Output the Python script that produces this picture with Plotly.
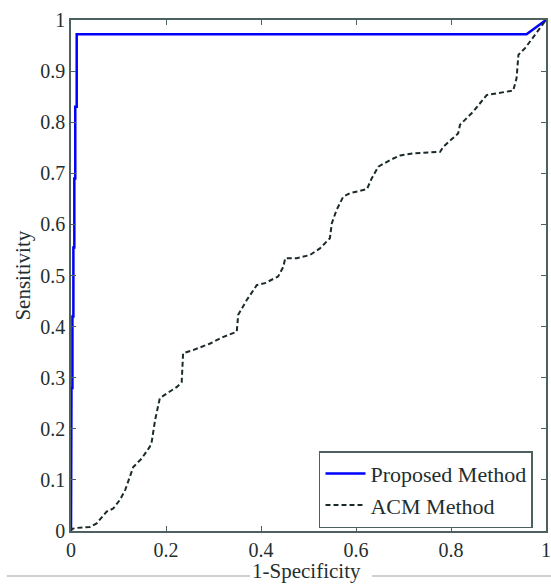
import plotly.graph_objects as go

# Proposed Method ROC (blue, stepwise)
proposed_fpr = [0, 0, 0.001, 0.001, 0.003, 0.003, 0.005, 0.005, 0.007, 0.007,
                0.009, 0.009, 0.012, 0.012, 0.959, 1.0]
proposed_tpr = [0, 0.14, 0.14, 0.28, 0.28, 0.42, 0.42, 0.555, 0.555, 0.69,
                0.69, 0.83, 0.83, 0.972, 0.972, 1.0]

# ACM Method ROC (dashed)
acm_fpr = [0.0, 0.0015, 0.012, 0.04, 0.054, 0.075, 0.089, 0.103, 0.114, 0.124,
           0.131, 0.149, 0.166, 0.170, 0.177, 0.187, 0.201, 0.223, 0.233, 0.236,
           0.257, 0.293, 0.321, 0.349, 0.352, 0.370, 0.391, 0.408, 0.436, 0.447,
           0.451, 0.475, 0.503, 0.524, 0.545, 0.549, 0.559, 0.573, 0.587, 0.623,
           0.633, 0.647, 0.672, 0.693, 0.721, 0.777, 0.784, 0.815, 0.819, 0.847,
           0.875, 0.903, 0.931, 0.938, 0.942, 0.956, 0.973, 1.0]
acm_tpr = [0.0, 0.004, 0.006, 0.008, 0.015, 0.038, 0.044, 0.061, 0.080, 0.106,
           0.125, 0.142, 0.165, 0.175, 0.217, 0.260, 0.268, 0.282, 0.291, 0.348,
           0.354, 0.367, 0.380, 0.390, 0.423, 0.452, 0.481, 0.485, 0.498, 0.517,
           0.534, 0.534, 0.540, 0.553, 0.573, 0.602, 0.628, 0.654, 0.661, 0.669,
           0.690, 0.713, 0.726, 0.735, 0.739, 0.742, 0.752, 0.778, 0.795, 0.821,
           0.853, 0.858, 0.862, 0.886, 0.932, 0.945, 0.967, 1.0]

tick_vals = [0, 0.1, 0.2, 0.3, 0.4, 0.5, 0.6, 0.7, 0.8, 0.9, 1]
tick_text = ["0", "0.1", "0.2", "0.3", "0.4", "0.5", "0.6", "0.7", "0.8", "0.9", "1"]
x_tick_vals = [0, 0.2, 0.4, 0.6, 0.8, 1]
x_tick_text = ["0", "0.2", "0.4", "0.6", "0.8", "1"]

FONT = "Liberation Serif, Times New Roman, serif"
FRAME = "#4d6161"
TXT = "#1f2f2f"

fig = go.Figure()
fig.add_trace(go.Scatter(x=proposed_fpr, y=proposed_tpr, mode="lines",
                         name="Proposed Method",
                         line=dict(color="#0000ff", width=2.5)))
fig.add_trace(go.Scatter(x=acm_fpr, y=acm_tpr, mode="lines",
                         name="ACM Method",
                         line=dict(color="#1a2a2a", width=2, dash="5px,3px")))

axis_common = dict(
    showgrid=False, zeroline=False, showline=True, linecolor=FRAME, linewidth=1.5,
    mirror="ticks", ticks="inside", ticklen=5, tickcolor=FRAME, tickwidth=1.2,
    tickfont=dict(family=FONT, size=20, color=TXT), automargin=False,
    ticklabeloverflow="allow",
)

fig.update_layout(
    width=551, height=585,
    margin=dict(l=71, r=5, t=20, b=54),
    paper_bgcolor="white", plot_bgcolor="white",
    showlegend=True,
    xaxis=dict(range=[0, 1], tickvals=x_tick_vals, ticktext=x_tick_text, **axis_common),
    yaxis=dict(range=[0, 1], tickvals=tick_vals, ticktext=tick_text, **axis_common),
    legend=dict(x=0.9726, xanchor="right", y=0.081, yanchor="middle",
                bgcolor="white", bordercolor=FRAME, borderwidth=1.5,
                font=dict(family=FONT, size=22, color=TXT),
                tracegroupgap=0, itemwidth=40),
    annotations=[
        dict(text="1-Specificity", x=0.495, y=-0.079, xref="paper", yref="paper",
             xanchor="center", yanchor="middle", showarrow=False,
             font=dict(family=FONT, size=21, color=TXT)),
        dict(text="Sensitivity", x=-0.103, y=0.5, xref="paper", yref="paper",
             xanchor="center", yanchor="middle", showarrow=False, textangle=-90,
             font=dict(family=FONT, size=21, color=TXT)),
    ],
    shapes=[
        dict(type="line", xref="paper", yref="paper", x0=-0.135, x1=0.377,
             y0=-0.088, y1=-0.088, line=dict(color="#cfcfcf", width=2)),
        dict(type="line", xref="paper", yref="paper", x0=0.634, x1=1.011,
             y0=-0.088, y1=-0.088, line=dict(color="#cfcfcf", width=2)),
    ],
)

# remove the browser's default 8px body margin so the figure fills the window
fig.write_html("out.html", config={"displayModeBar": False},
               post_script="document.body.style.margin='0px';")
